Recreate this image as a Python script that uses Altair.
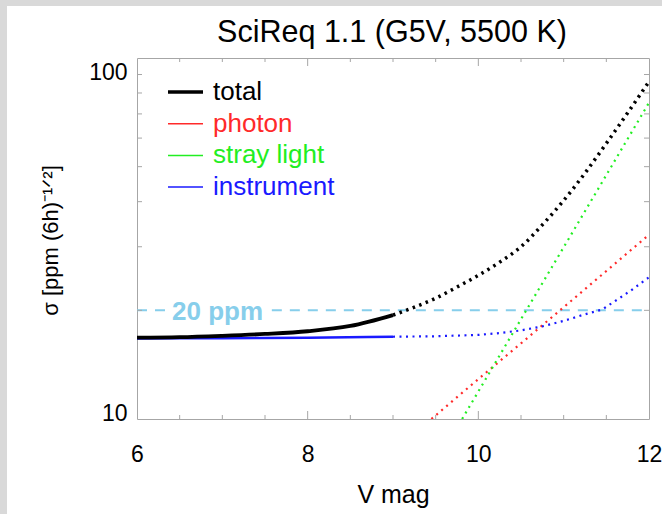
import altair as alt
import pandas as pd

# ---- data ----
total_solid_v = [6.0, 6.5, 7.0, 7.5, 8.0, 8.5, 9.0]
total_solid_s = [16.8, 16.85, 17.0, 17.2, 17.5, 18.1, 19.4]
total_dot_v = [9.0, 9.25, 9.5, 9.75, 10.0, 10.25, 10.5, 10.75, 11.0, 11.25, 11.5, 11.75, 12.0]
total_dot_s = [19.4, 20.4, 21.6, 23.2, 25.0, 27.2, 30.0, 34.5, 40.3, 48.0, 58.0, 70.5, 86.0]

instr_solid_v = [6.0, 7.0, 8.0, 9.0]
instr_solid_s = [16.7, 16.75, 16.8, 16.9]
instr_dot_v = [9.0, 9.5, 10.0, 10.25, 10.5, 10.75, 11.0, 11.25, 11.45, 11.6, 11.8, 12.0]
instr_dot_s = [16.9, 16.95, 17.1, 17.3, 17.6, 18.05, 18.7, 19.5, 20.1, 21.2, 22.8, 24.7]

photon_v = [9.45, 10.0, 10.5, 11.0, 11.5, 12.0]
photon_s = [10.0, 12.9, 16.2, 20.4, 25.7, 32.4]

stray_v = [9.81, 10.5, 11.0, 11.5, 12.0]
stray_s = [10.0, 18.9, 29.9, 47.4, 75.2]

req_level = 20
req_label = "20 ppm"
req_segments_v = [[6.0, 6.33], [7.58, 12.0]]
req_label_v = 6.41

chart_title = "SciReq 1.1 (G5V, 5500 K)"

legend_labels = ["total", "photon", "stray light", "instrument"]
legend_colors = ["#000000", "#ff2a2a", "#22ee22", "#1a1aff"]
legend_widths = [3.5, 1.5, 1.5, 1.5]

x_major = [8, 10]
x_minor = [6.5, 7.0, 7.5, 8.5, 9.0, 9.5, 10.5, 11.0, 11.5]
y_minor = [20, 30, 40, 50, 60, 70, 80, 90]

FONT = "Liberation Sans"
W, H = 512, 361
FRAME = "#a6a6a6"

rows = []
def add(series, style, vs, ss):
    for v, s in zip(vs, ss):
        rows.append({"V": v, "sigma": s, "series": series, "style": style})

add("total", "solid", total_solid_v, total_solid_s)
add("total", "dot", total_dot_v, total_dot_s)
add("instrument", "solid", instr_solid_v, instr_solid_s)
add("instrument", "dot", instr_dot_v, instr_dot_s)
add("photon", "dot", photon_v, photon_s)
add("stray", "dot", stray_v, stray_s)
df = pd.DataFrame(rows)

xscale = alt.Scale(domain=[6, 12], nice=False, zero=False)
yscale = alt.Scale(type="log", domain=[10, 100], nice=False)

x_axis = alt.Axis(values=[6, 8, 10, 12], format="d", domain=False, ticks=False, tickSize=0,
                  grid=False, labelFontSize=23, labelFont=FONT, labelColor="black",
                  labelPadding=24, labelAngle=0, labelFlush=False,
                  titleFontSize=25, titleFont=FONT, titleFontWeight="normal", titleColor="black",
                  titleY=83, titleBaseline="alphabetic")
y_axis = alt.Axis(values=[10, 100], format="d", domain=False, ticks=False, tickSize=0,
                  grid=False, labelFontSize=23, labelFont=FONT, labelColor="black",
                  labelPadding=10, labelBaseline="alphabetic", labelFlush=False,
                  labelOffset={"condition": {"test": "datum.value == 100", "value": 21}, "value": 1},
                  titleFontSize=22, titleFont=FONT, titleFontWeight="normal", titleColor="black",
                  titleAngle=270, titleX=-80, titleY=182, titleAlign="center",
                  titleBaseline="alphabetic")

X_TITLE = "V mag"
Y_TITLE = "σ [ppm (6h)⁻¹ᐟ²]"

def X(field):
    return alt.X(field, type="quantitative", scale=xscale, axis=x_axis, title=X_TITLE)

def Y(field):
    return alt.Y(field, type="quantitative", scale=yscale, axis=y_axis, title=Y_TITLE)

base = alt.Chart(df)

def line(series, style, color, width, dash=None, interp="monotone"):
    kw = dict(color=color, strokeWidth=width, interpolate=interp, clip=True, strokeCap="butt")
    if dash:
        kw["strokeDash"] = dash
    return base.transform_filter(
        f"datum.series == '{series}' && datum.style == '{style}'"
    ).mark_line(**kw).encode(x=X("V"), y=Y("sigma"), order="V:Q")

layers = []

# page border strips
strip = alt.Chart(pd.DataFrame({"a": [0]}))
layers.append(strip.mark_rect(color="#d9d9d9").encode(
    x=alt.value(-137), x2=alt.value(-130), y=alt.value(-58), y2=alt.value(456)))
layers.append(strip.mark_rect(color="#d9d9d9").encode(
    x=alt.value(-137), x2=alt.value(525), y=alt.value(-58), y2=alt.value(-52)))

# chart title as text
layers.append(alt.Chart(pd.DataFrame({"t": [chart_title]})).mark_text(
    fontSize=30.5, font=FONT, color="black", align="center", baseline="alphabetic"
).encode(x=alt.value(W / 2 - 1), y=alt.value(-16), text="t:N"))

# requirement line (dashed, with gap for label)
req_rows = []
for i, (a, b) in enumerate(req_segments_v):
    req_rows.append({"V": a, "sigma": req_level, "seg": i})
    req_rows.append({"V": b, "sigma": req_level, "seg": i})
req_df = pd.DataFrame(req_rows)
layers.append(alt.Chart(req_df).mark_line(color="#87ceeb", strokeWidth=2, strokeDash=[10, 8]).encode(
    x=X("V"), y=Y("sigma"), detail="seg:N"))
layers.append(alt.Chart(pd.DataFrame({"V": [req_label_v], "sigma": [req_level], "t": [req_label]}))
              .mark_text(color="#87ceeb", fontSize=26, fontWeight="bold", font=FONT,
                         align="left", baseline="alphabetic", dy=10)
              .encode(x=X("V"), y=Y("sigma"), text="t:N"))

# curves
layers.append(line("photon", "dot", legend_colors[1], 2.2, [2, 4.5], "linear"))
layers.append(line("stray", "dot", legend_colors[2], 2.2, [2, 4.5], "linear"))
layers.append(line("instrument", "solid", legend_colors[3], 2.5))
layers.append(line("instrument", "dot", legend_colors[3], 2.2, [2, 4.5], "linear"))
layers.append(line("total", "solid", "black", 3.8))
layers.append(line("total", "dot", "black", 3.5, [2.5, 4.5]))

# inward ticks
xt_min = alt.Chart(pd.DataFrame({"t": x_minor}))
xt_maj = alt.Chart(pd.DataFrame({"t": x_major}))
yt_min = alt.Chart(pd.DataFrame({"t": y_minor}))
tk = dict(color=FRAME, strokeWidth=1)
layers.append(xt_min.mark_rule(**tk).encode(x=X("t"), y=alt.value(H), y2=alt.value(H - 4)))
layers.append(xt_min.mark_rule(**tk).encode(x=X("t"), y=alt.value(0), y2=alt.value(4)))
layers.append(xt_maj.mark_rule(**tk).encode(x=X("t"), y=alt.value(H), y2=alt.value(H - 8)))
layers.append(xt_maj.mark_rule(**tk).encode(x=X("t"), y=alt.value(0), y2=alt.value(8)))
layers.append(yt_min.mark_rule(**tk).encode(y=Y("t"), x=alt.value(0), x2=alt.value(5)))
layers.append(yt_min.mark_rule(**tk).encode(y=Y("t"), x=alt.value(W), x2=alt.value(W - 5)))

# manual legend
for i, (lab, col, wd) in enumerate(zip(legend_labels, legend_colors, legend_widths)):
    yy = 34 + 31.7 * i
    d = alt.Chart(pd.DataFrame({"label": [lab]}))
    layers.append(d.mark_rule(color=col, strokeWidth=wd).encode(
        x=alt.value(31), x2=alt.value(66), y=alt.value(yy)))
    layers.append(d.mark_text(color=col, fontSize=26, font=FONT, align="left",
                              baseline="alphabetic").encode(
        x=alt.value(76), y=alt.value(yy + 8), text="label:N"))

chart = alt.layer(*layers).properties(
    width=W, height=H,
    autosize=alt.AutoSizeParams(type="none"),
    padding={"left": 137, "top": 58, "right": 13, "bottom": 95},
).configure(
    font=FONT, background="white"
).configure_view(
    stroke=FRAME, strokeWidth=1
)

chart.save("out.html", embed_options={"renderer": "svg", "actions": False})
